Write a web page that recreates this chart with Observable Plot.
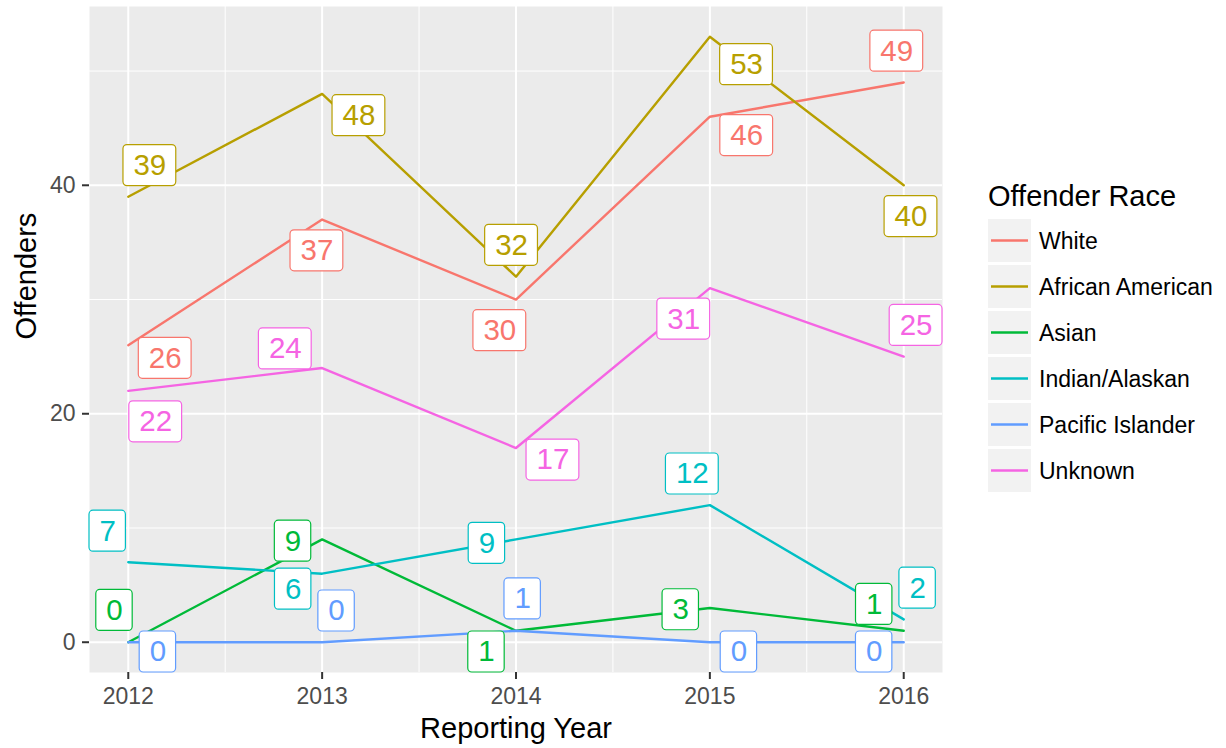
<!DOCTYPE html>
<html>
<head>
<meta charset="utf-8">
<script src="https://cdn.jsdelivr.net/npm/d3@7"></script>
<script src="https://cdn.jsdelivr.net/npm/@observablehq/plot@0.6"></script>
<style>
  body { margin: 0; background: #fff; }
  #wrap { position: relative; width: 1226px; height: 748px; font-family: "Liberation Sans", Arial, sans-serif; }
  #wrap > svg.chart { position: absolute; left: 0; top: 0; }
</style>
</head>
<body>
<div id="wrap"></div>
<script>
// ---- data ----
const years = [2012, 2013, 2014, 2015, 2016];
const races = ["White", "African American", "Asian", "Indian/Alaskan", "Pacific Islander", "Unknown"];
const raceColors = ["#F8766D", "#B79F00", "#00BA38", "#00BFC4", "#619CFF", "#F564E3"];
const white = [26, 37, 30, 46, 49];
const africanAmerican = [39, 48, 32, 53, 40];
const asian = [0, 9, 1, 3, 1];
const indianAlaskan = [7, 6, 9, 12, 2];
const pacificIslander = [0, 0, 1, 0, 0];
const unknown = [22, 24, 17, 31, 25];
const yTicks = [0, 20, 40];
const yMinorTicks = [10, 30, 50];
const xTicks = years;
const xMinorTicks = [2012.5, 2013.5, 2014.5, 2015.5];
const xTitle = "Reporting Year";
const yTitle = "Offenders";
const legendTitle = "Offender Race";

const seriesValues = [white, africanAmerican, asian, indianAlaskan, pacificIslander, unknown];
const data = races.flatMap((race, i) => years.map((year, j) => ({race, year, value: seriesValues[i][j]})));

// ---- layout ----
const W = 960, H = 748;
const M = {left: 89, right: 18, top: 6, bottom: 76};
const FONT = "Liberation Sans, Arial, Helvetica, sans-serif";
const xr = d3.extent(years), xpad = 0.05 * (xr[1] - xr[0]);
const yr = [Math.min(0, d3.min(data, d => d.value)), d3.max(data, d => d.value)], ypad = 0.05 * (yr[1] - yr[0]);
const xDomain = [xr[0] - xpad, xr[1] + xpad];
const yDomain = [yr[0] - ypad, yr[1] + ypad];

const xs = Plot.scale({x: {domain: xDomain, range: [M.left, W - M.right]}});
const ys = Plot.scale({y: {domain: yDomain, range: [H - M.bottom, M.top]}});

// ---- simple label repulsion (ggrepel-like) in pixel space ----
const LABEL_FS = 29.5;
const rng = d3.randomLcg(11);
const pts = data.map(d => ({x: xs.apply(d.year), y: ys.apply(d.value)}));
const nodes = data.map((d, i) => {
  const n = String(d.value).length;
  const a = rng() * 2 * Math.PI;
  return {d, px: pts[i].x, py: pts[i].y, w: 20 + 16.4 * n, h: 41,
          x: pts[i].x + 4 * Math.cos(a), y: pts[i].y + 4 * Math.sin(a)};
});
const BP = 7, PP = 12;
const bx0 = M.left, bx1 = W - M.right, by0 = M.top, by1 = H - M.bottom;
for (let it = 0; it < 1500; it++) {
  for (const a of nodes) {
    let fx = 0, fy = 0;
    for (const b of nodes) {
      if (a === b) continue;
      const dx = a.x - b.x, dy = a.y - b.y;
      const ox = (a.w + b.w) / 2 + BP - Math.abs(dx), oy = (a.h + b.h) / 2 + BP - Math.abs(dy);
      if (ox > 0 && oy > 0) {
        const len = Math.hypot(dx, dy) || 1e-3;
        const m = Math.min(ox, oy) * 0.2;
        fx += dx / len * m; fy += dy / len * m;
      }
    }
    for (const p of pts) {
      const dx = a.x - p.x, dy = a.y - p.y;
      const ox = a.w / 2 + PP - Math.abs(dx), oy = a.h / 2 + PP - Math.abs(dy);
      if (ox > 0 && oy > 0) {
        const len = Math.hypot(dx, dy) || 1e-3;
        const m = Math.min(ox, oy) * 0.4;
        fx += dx / len * m; fy += dy / len * m;
      }
    }
    fx += (a.px - a.x) * 0.015; fy += (a.py - a.y) * 0.015;
    a.vx = fx; a.vy = fy;
  }
  for (const a of nodes) {
    a.x = Math.max(bx0 + a.w / 2, Math.min(bx1 - a.w / 2, a.x + a.vx));
    a.y = Math.max(by0 + a.h / 2, Math.min(by1 - a.h / 2, a.y + a.vy));
  }
}
// label boxes and connector segments in data units
const labels = nodes.map(n => {
  const vx = n.x - n.px, vy = n.y - n.py;
  const s = Math.min(vx ? (n.w / 2) / Math.abs(vx) : Infinity, vy ? (n.h / 2) / Math.abs(vy) : Infinity);
  const ex = n.x - vx * s, ey = n.y - vy * s;
  const segLen = Math.hypot(vx, vy) * Math.max(0, 1 - s);
  return {
    race: n.d.race, year: n.d.year, value: n.d.value, text: String(n.d.value),
    lx: xs.invert(n.x), ly: ys.invert(n.y),
    x1: xs.invert(n.x - n.w / 2), x2: xs.invert(n.x + n.w / 2),
    y1: ys.invert(n.y + n.h / 2), y2: ys.invert(n.y - n.h / 2),
    ex: xs.invert(ex), ey: ys.invert(ey), seg: s < 1 && segLen > 18
  };
});

const plot = Plot.plot({
  width: W, height: H,
  marginLeft: M.left, marginRight: M.right, marginTop: M.top, marginBottom: M.bottom,
  className: "chart",
  style: {fontFamily: FONT, background: "white", overflow: "visible"},
  x: {domain: xDomain},
  y: {domain: yDomain},
  color: {domain: races, range: raceColors},
  marks: [
    Plot.frame({fill: "#EBEBEB", stroke: null}),
    Plot.gridX(xMinorTicks, {stroke: "white", strokeOpacity: 1, strokeWidth: 1}),
    Plot.gridY(yMinorTicks, {stroke: "white", strokeOpacity: 1, strokeWidth: 1}),
    Plot.gridX(xTicks, {stroke: "white", strokeOpacity: 1, strokeWidth: 2}),
    Plot.gridY(yTicks, {stroke: "white", strokeOpacity: 1, strokeWidth: 2}),
    Plot.axisX(xTicks, {tickFormat: d => String(d), tickSize: 7, tickPadding: 8, strokeWidth: 2,
      stroke: "#333333", fill: "#4D4D4D", fontSize: 23, label: null}),
    Plot.axisY(yTicks, {tickSize: 7, tickPadding: 7, strokeWidth: 2,
      stroke: "#333333", fill: "#4D4D4D", fontSize: 23, label: null}),
    Plot.text([xTitle], {frameAnchor: "bottom", dy: 56, fontSize: 29, fill: "black", lineAnchor: "middle"}),
    Plot.text([yTitle], {frameAnchor: "left", dx: -63, rotate: -90, fontSize: 29, fill: "black", lineAnchor: "middle"}),
    Plot.line(data, {x: "year", y: "value", stroke: "race", z: "race", strokeWidth: 2.4}),
    Plot.link(labels.filter(d => d.seg), {x1: "year", y1: "value", x2: "ex", y2: "ey", stroke: "race", strokeWidth: 1.8}),
    Plot.rect(labels, {x1: "x1", x2: "x2", y1: "y1", y2: "y2", fill: "white", stroke: "race", strokeWidth: 1.2, rx: 4}),
    Plot.text(labels, {x: "lx", y: "ly", text: "text", fill: "race", fontSize: LABEL_FS, lineAnchor: "middle"})
  ]
});

const wrap = document.getElementById("wrap");
wrap.appendChild(plot);

// ---- legend (to the right of the plot) ----
const colorScale = plot.scale("color");
const leg = d3.select(wrap).append("svg").attr("id", "legend")
  .attr("width", 1226 - W).attr("height", H)
  .style("position", "absolute").style("left", W + "px").style("top", "0px")
  .style("font-family", FONT);
leg.append("text").attr("x", 28).attr("y", 206).attr("font-size", 29).attr("fill", "black").text(legendTitle);
colorScale.domain.forEach((race, i) => {
  const y0 = 219 + i * 46;
  leg.append("rect").attr("x", 28).attr("y", y0).attr("width", 43).attr("height", 43).attr("fill", "#F2F2F2");
  leg.append("line").attr("x1", 31).attr("x2", 68).attr("y1", y0 + 21.5).attr("y2", y0 + 21.5)
    .attr("stroke", colorScale.range[i]).attr("stroke-width", 2.4);
  leg.append("text").attr("x", 79).attr("y", y0 + 21.5 + 8.2).attr("font-size", 23).attr("fill", "black").text(race);
});
</script>
</body>
</html>
